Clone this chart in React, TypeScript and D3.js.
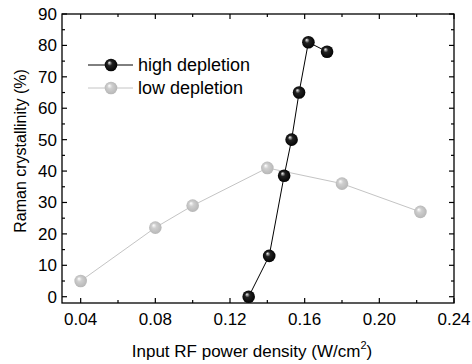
import React, { useEffect, useRef } from 'react';
import * as d3 from 'd3';

// high depletion series
const highX = [0.13, 0.141, 0.149, 0.153, 0.157, 0.162, 0.172];
const highY = [0, 13, 38.5, 50, 65, 81, 78];
// low depletion series
const lowX = [0.04, 0.08, 0.10, 0.14, 0.18, 0.222];
const lowY = [5, 22, 29, 41, 36, 27];

const xTicks = [0.04, 0.08, 0.12, 0.16, 0.20, 0.24];
const yTicks = [0, 10, 20, 30, 40, 50, 60, 70, 80, 90];
const seriesNames = ['high depletion', 'low depletion'];

export default function App() {
  const ref = useRef<SVGSVGElement>(null);
  useEffect(() => {
    const w = 472, h = 364;
    const m = { l: 62, r: 18, t: 14, b: 61 };
    const svg = d3.select(ref.current).attr('width', w).attr('height', h);
    svg.selectAll('*').remove();
    const font = "'Liberation Sans', Arial, sans-serif";

    const x = d3.scaleLinear().domain([0.03, 0.24]).range([m.l, w - m.r]);
    const y = d3.scaleLinear().domain([-2, 90]).range([h - m.b, m.t]);

    const defs = svg.append('defs');
    const grad = (id, c0, c1, c2) => {
      const g = defs.append('radialGradient').attr('id', id)
        .attr('cx', '0.5').attr('cy', '0.5').attr('r', '0.55')
        .attr('fx', '0.35').attr('fy', '0.3');
      g.append('stop').attr('offset', '0%').attr('stop-color', c0);
      g.append('stop').attr('offset', '35%').attr('stop-color', c1);
      g.append('stop').attr('offset', '100%').attr('stop-color', c2);
    };
    grad('gBlack', '#f4f4f4', '#222', '#000');
    grad('gGray', '#ffffff', '#cfcfcf', '#b4b4b4');

    // frame
    svg.append('rect').attr('x', m.l).attr('y', m.t)
      .attr('width', w - m.r - m.l).attr('height', h - m.b - m.t)
      .attr('fill', 'none').attr('stroke', '#000').attr('stroke-width', 1.3);

    const xMinor = d3.range(0.06, 0.24, 0.04);
    const yMinor = d3.range(5, 90, 10);
    const tk = svg.append('g').attr('stroke', '#000').attr('stroke-width', 1.2);
    xTicks.forEach(v => {
      tk.append('line').attr('x1', x(v)).attr('x2', x(v)).attr('y1', h - m.b).attr('y2', h - m.b - 5);
      tk.append('line').attr('x1', x(v)).attr('x2', x(v)).attr('y1', m.t).attr('y2', m.t + 5);
    });
    xMinor.forEach(v => {
      tk.append('line').attr('x1', x(v)).attr('x2', x(v)).attr('y1', h - m.b).attr('y2', h - m.b - 3);
      tk.append('line').attr('x1', x(v)).attr('x2', x(v)).attr('y1', m.t).attr('y2', m.t + 3);
    });
    yTicks.forEach(v => {
      tk.append('line').attr('x1', m.l).attr('x2', m.l + 5).attr('y1', y(v)).attr('y2', y(v));
      tk.append('line').attr('x1', w - m.r).attr('x2', w - m.r - 5).attr('y1', y(v)).attr('y2', y(v));
    });
    yMinor.forEach(v => {
      tk.append('line').attr('x1', m.l).attr('x2', m.l + 3).attr('y1', y(v)).attr('y2', y(v));
      tk.append('line').attr('x1', w - m.r).attr('x2', w - m.r - 3).attr('y1', y(v)).attr('y2', y(v));
    });

    svg.append('g').selectAll('text').data(xTicks).join('text')
      .attr('x', d => x(d)).attr('y', h - m.b + 22)
      .attr('text-anchor', 'middle').attr('font-family', font).attr('font-size', 17)
      .text(d => d3.format('.2f')(d));
    svg.append('g').selectAll('text').data(yTicks).join('text')
      .attr('x', m.l - 5).attr('y', d => y(d) + 6)
      .attr('text-anchor', 'end').attr('font-family', font).attr('font-size', 17)
      .text(d => d);

    // axis titles
    const xt = svg.append('text').attr('x', 252).attr('y', 357)
      .attr('text-anchor', 'middle').attr('font-family', font).attr('font-size', 17);
    xt.append('tspan').text('Input RF power density (W/cm');
    xt.append('tspan').attr('font-size', 11).attr('dy', -8).text('2');
    xt.append('tspan').attr('dy', 8).text(')');
    svg.append('text').attr('transform', 'translate(26,151) rotate(-90)')
      .attr('text-anchor', 'middle').attr('font-family', font).attr('font-size', 16)
      .text('Raman crystallinity (%)');

    const line = d3.line<[number, number]>().x(d => x(d[0])).y(d => y(d[1]));
    const series = [
      { pts: lowX.map((v, i) => [v, lowY[i]] as [number, number]), stroke: '#c4c4c4', fill: 'url(#gGray)' },
      { pts: highX.map((v, i) => [v, highY[i]] as [number, number]), stroke: '#000', fill: 'url(#gBlack)' },
    ];
    series.forEach(s => {
      svg.append('path').attr('d', line(s.pts)).attr('fill', 'none')
        .attr('stroke', s.stroke).attr('stroke-width', 1);
      svg.append('g').selectAll('circle').data(s.pts).join('circle')
        .attr('cx', d => x(d[0])).attr('cy', d => y(d[1])).attr('r', 6.3)
        .attr('fill', s.fill);
    });

    // legend
    const leg = [
      { name: seriesNames[0], stroke: '#000', fill: 'url(#gBlack)', yy: 65 },
      { name: seriesNames[1], stroke: '#c4c4c4', fill: 'url(#gGray)', yy: 88 },
    ];
    leg.forEach(l => {
      svg.append('line').attr('x1', 88).attr('x2', 133).attr('y1', l.yy).attr('y2', l.yy)
        .attr('stroke', l.stroke).attr('stroke-width', 1);
      svg.append('circle').attr('cx', 111).attr('cy', l.yy).attr('r', 6.3).attr('fill', l.fill);
      svg.append('text').attr('x', 138).attr('y', l.yy + 6).attr('font-family', font)
        .attr('font-size', 18).text(l.name);
    });
  }, []);
  return <svg ref={ref} style={{ position: 'absolute', left: 0, top: 0 }} />;
}
